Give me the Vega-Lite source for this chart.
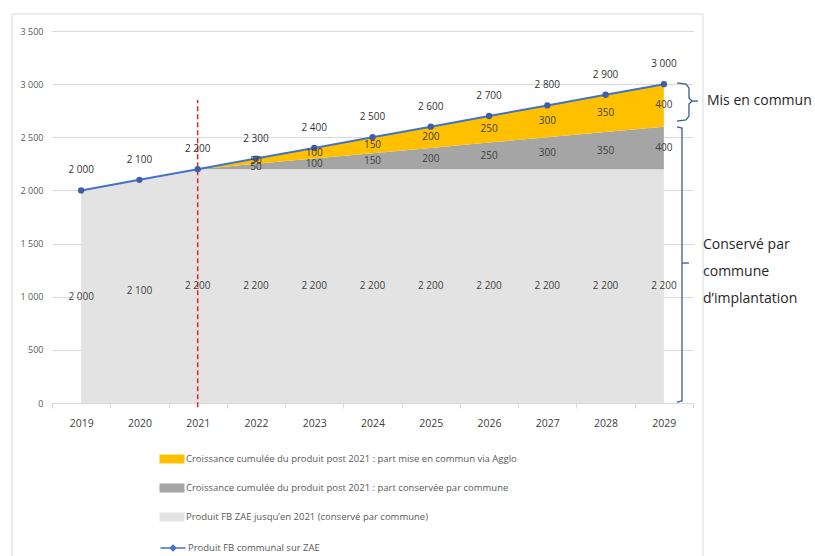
{
  "$schema": "https://vega.github.io/schema/vega-lite/v6.json",
  "autosize": {"type": "none"},
  "width": 641,
  "height": 372,
  "padding": {"left": 52, "top": 31, "right": 122, "bottom": 153},
  "background": "white",
  "config": {
    "view": {"stroke": null},
    "font": "Open Sans",
    "locale": {"number": {"decimal": ",", "thousands": " ", "grouping": [3], "currency": ["", " €"]}}
  },
  "resolve": {"axis": {"x": "independent", "y": "independent"}},
  "datasets": {
    "areas": [
      {"year": 2019, "series": "Produit FB ZAE jusqu’en 2021 (conservé par commune)", "value": 2000},
      {"year": 2020, "series": "Produit FB ZAE jusqu’en 2021 (conservé par commune)", "value": 2100},
      {"year": 2021, "series": "Produit FB ZAE jusqu’en 2021 (conservé par commune)", "value": 2200},
      {"year": 2022, "series": "Produit FB ZAE jusqu’en 2021 (conservé par commune)", "value": 2200},
      {"year": 2023, "series": "Produit FB ZAE jusqu’en 2021 (conservé par commune)", "value": 2200},
      {"year": 2024, "series": "Produit FB ZAE jusqu’en 2021 (conservé par commune)", "value": 2200},
      {"year": 2025, "series": "Produit FB ZAE jusqu’en 2021 (conservé par commune)", "value": 2200},
      {"year": 2026, "series": "Produit FB ZAE jusqu’en 2021 (conservé par commune)", "value": 2200},
      {"year": 2027, "series": "Produit FB ZAE jusqu’en 2021 (conservé par commune)", "value": 2200},
      {"year": 2028, "series": "Produit FB ZAE jusqu’en 2021 (conservé par commune)", "value": 2200},
      {"year": 2029, "series": "Produit FB ZAE jusqu’en 2021 (conservé par commune)", "value": 2200},
      {"year": 2019, "series": "Croissance cumulée du produit post 2021 : part conservée par commune", "value": 0},
      {"year": 2020, "series": "Croissance cumulée du produit post 2021 : part conservée par commune", "value": 0},
      {"year": 2021, "series": "Croissance cumulée du produit post 2021 : part conservée par commune", "value": 0},
      {"year": 2022, "series": "Croissance cumulée du produit post 2021 : part conservée par commune", "value": 50},
      {"year": 2023, "series": "Croissance cumulée du produit post 2021 : part conservée par commune", "value": 100},
      {"year": 2024, "series": "Croissance cumulée du produit post 2021 : part conservée par commune", "value": 150},
      {"year": 2025, "series": "Croissance cumulée du produit post 2021 : part conservée par commune", "value": 200},
      {"year": 2026, "series": "Croissance cumulée du produit post 2021 : part conservée par commune", "value": 250},
      {"year": 2027, "series": "Croissance cumulée du produit post 2021 : part conservée par commune", "value": 300},
      {"year": 2028, "series": "Croissance cumulée du produit post 2021 : part conservée par commune", "value": 350},
      {"year": 2029, "series": "Croissance cumulée du produit post 2021 : part conservée par commune", "value": 400},
      {"year": 2019, "series": "Croissance cumulée du produit post 2021 : part mise en commun via Agglo", "value": 0},
      {"year": 2020, "series": "Croissance cumulée du produit post 2021 : part mise en commun via Agglo", "value": 0},
      {"year": 2021, "series": "Croissance cumulée du produit post 2021 : part mise en commun via Agglo", "value": 0},
      {"year": 2022, "series": "Croissance cumulée du produit post 2021 : part mise en commun via Agglo", "value": 50},
      {"year": 2023, "series": "Croissance cumulée du produit post 2021 : part mise en commun via Agglo", "value": 100},
      {"year": 2024, "series": "Croissance cumulée du produit post 2021 : part mise en commun via Agglo", "value": 150},
      {"year": 2025, "series": "Croissance cumulée du produit post 2021 : part mise en commun via Agglo", "value": 200},
      {"year": 2026, "series": "Croissance cumulée du produit post 2021 : part mise en commun via Agglo", "value": 250},
      {"year": 2027, "series": "Croissance cumulée du produit post 2021 : part mise en commun via Agglo", "value": 300},
      {"year": 2028, "series": "Croissance cumulée du produit post 2021 : part mise en commun via Agglo", "value": 350},
      {"year": 2029, "series": "Croissance cumulée du produit post 2021 : part mise en commun via Agglo", "value": 400}
    ],
    "totals": [
      {"year": 2019, "total": 2000},
      {"year": 2020, "total": 2100},
      {"year": 2021, "total": 2200},
      {"year": 2022, "total": 2300},
      {"year": 2023, "total": 2400},
      {"year": 2024, "total": 2500},
      {"year": 2025, "total": 2600},
      {"year": 2026, "total": 2700},
      {"year": 2027, "total": 2800},
      {"year": 2028, "total": 2900},
      {"year": 2029, "total": 3000}
    ],
    "marker": [{"year": 2021, "lo": -40, "hi": 2850}],
    "frame": [{"fx1": 2017.814, "fx2": 2029.672, "fy1": 3660, "fy2": -1500}],
    "paths": [
      {"path": "b1", "seq": 1, "bx": 2029.225, "by": 3011},
      {"path": "b1", "seq": 2, "bx": 2029.380, "by": 3001},
      {"path": "b1", "seq": 3, "bx": 2029.431, "by": 2964},
      {"path": "b1", "seq": 4, "bx": 2029.431, "by": 2870},
      {"path": "b1", "seq": 5, "bx": 2029.483, "by": 2841},
      {"path": "b1", "seq": 6, "bx": 2029.431, "by": 2813},
      {"path": "b1", "seq": 7, "bx": 2029.431, "by": 2700},
      {"path": "b1", "seq": 8, "bx": 2029.380, "by": 2663},
      {"path": "b1", "seq": 9, "bx": 2029.225, "by": 2653},
      {"path": "t1", "seq": 1, "bx": 2029.483, "by": 2841},
      {"path": "t1", "seq": 2, "bx": 2029.586, "by": 2841},
      {"path": "b2", "seq": 1, "bx": 2029.225, "by": 2597},
      {"path": "b2", "seq": 2, "bx": 2029.311, "by": 2587},
      {"path": "b2", "seq": 3, "bx": 2029.311, "by": 19},
      {"path": "b2", "seq": 4, "bx": 2029.225, "by": 9},
      {"path": "t2", "seq": 1, "bx": 2029.311, "by": 1317},
      {"path": "t2", "seq": 2, "bx": 2029.431, "by": 1317}
    ],
    "notes": [
      {"nx": 2029.740, "ny": 2841, "label": "Mis en commun"},
      {"nx": 2029.672, "ny": 1487, "label": "Conservé par"},
      {"nx": 2029.672, "ny": 1233, "label": "commune"},
      {"nx": 2029.672, "ny": 979, "label": "d’implantation"}
    ]
  },
  "layer": [
    {
      "data": {"name": "areas"},
      "transform": [
        {"calculate": "indexof(['Produit FB ZAE jusqu’en 2021 (conservé par commune)', 'Croissance cumulée du produit post 2021 : part conservée par commune', 'Croissance cumulée du produit post 2021 : part mise en commun via Agglo'], datum.series)", "as": "rank"}
      ],
      "mark": {"type": "area", "opacity": 1},
      "encoding": {
        "x": {
          "field": "year", "type": "quantitative", "title": null,
          "scale": {"domain": [2018.5, 2029.5], "nice": false, "zero": false},
          "axis": {
            "values": [2018.5, 2019, 2019.5, 2020, 2020.5, 2021, 2021.5, 2022, 2022.5, 2023, 2023.5, 2024, 2024.5, 2025, 2025.5, 2026, 2026.5, 2027, 2027.5, 2028, 2028.5, 2029, 2029.5],
            "labelExpr": "(datum.value % 1) == 0 ? ('' + datum.value) : ''",
            "grid": false,
            "domainColor": "#d9d9d9",
            "tickColor": "#d9d9d9",
            "tickSize": 5,
            "tickOpacity": {"condition": {"test": "(datum.value % 1) != 0", "value": 1}, "value": 0},
            "labelFontSize": 10.5,
            "labelColor": "#404040",
            "labelPadding": 10,
            "labelFlush": false,
            "labelOverlap": false,
            "labelBound": false,
            "title": null
          }
        },
        "y": {
          "field": "value", "type": "quantitative", "stack": "zero", "title": null,
          "scale": {"domain": [0, 3500], "nice": false},
          "axis": {
            "values": [0, 500, 1000, 1500, 2000, 2500, 3000, 3500],
            "labelExpr": "format(datum.value, ',')",
            "grid": true,
            "gridColor": "#d9d9d9",
            "domain": false,
            "ticks": false,
            "labelPadding": 9,
            "labelFontSize": 9,
            "labelColor": "#595959",
            "title": null
          }
        },
        "color": {
          "field": "series", "type": "nominal",
          "scale": {
            "domain": [
              "Croissance cumulée du produit post 2021 : part mise en commun via Agglo",
              "Croissance cumulée du produit post 2021 : part conservée par commune",
              "Produit FB ZAE jusqu’en 2021 (conservé par commune)"
            ],
            "range": ["#FFC000", "#A5A5A5", "#E3E3E3"]
          },
          "legend": {
            "title": null,
            "orient": "none",
            "legendX": 115,
            "legendY": 423,
            "direction": "vertical",
            "padding": 0,
            "labelFontSize": 9.5,
            "labelColor": "#595959",
            "labelLimit": 600,
            "rowPadding": 19,
            "symbolSize": 100,
            "labelOffset": 9,
            "symbolType": "M-2.5,-0.9H2.5V0.9H-2.5Z",
            "symbolStrokeWidth": 0,
            "symbolOpacity": 1
          }
        },
        "order": {"field": "rank", "type": "quantitative"}
      }
    },
    {
      "data": {"name": "frame"},
      "mark": {"type": "rect", "fillOpacity": 0, "stroke": "#d9d9d9", "strokeWidth": 1},
      "encoding": {
        "x": {"field": "fx1", "type": "quantitative", "scale": {"domain": [2018.5, 2029.5], "nice": false, "zero": false}, "axis": null},
        "x2": {"field": "fx2"},
        "y": {"field": "fy1", "type": "quantitative", "scale": {"domain": [0, 3500], "nice": false}, "axis": null},
        "y2": {"field": "fy2"}
      }
    },
    {
      "data": {"name": "marker"},
      "mark": {"type": "rule", "color": "#E3242B", "strokeDash": [5, 3], "strokeWidth": 1.5},
      "encoding": {
        "x": {"field": "year", "type": "quantitative", "scale": {"domain": [2018.5, 2029.5], "nice": false, "zero": false}, "axis": null},
        "y": {"field": "lo", "type": "quantitative", "scale": {"domain": [0, 3500], "nice": false}, "axis": null},
        "y2": {"field": "hi"}
      }
    },
    {
      "data": {"name": "totals"},
      "mark": {"type": "line", "strokeWidth": 2},
      "encoding": {
        "x": {"field": "year", "type": "quantitative", "scale": {"domain": [2018.5, 2029.5], "nice": false, "zero": false}, "axis": null},
        "y": {"field": "total", "type": "quantitative", "scale": {"domain": [0, 3500], "nice": false}, "axis": null},
        "stroke": {
          "datum": "Produit FB communal sur ZAE",
          "scale": {"range": ["#4472C4"]},
          "legend": {
            "title": null,
            "orient": "none",
            "legendX": 115,
            "legendY": 511,
            "padding": 0,
            "labelFontSize": 9.5,
            "labelColor": "#595959",
            "labelLimit": 600,
            "symbolSize": 100,
            "labelOffset": 9,
            "symbolType": "M-2.5,0H2.5M0,-0.55L0.55,0L0,0.55L-0.55,0Z",
            "symbolStrokeWidth": 1.5,
            "symbolFillColor": "#4472C4",
            "symbolStrokeColor": "#4472C4",
            "symbolOpacity": 1
          }
        }
      }
    },
    {
      "data": {"name": "totals"},
      "mark": {"type": "point", "filled": true, "size": 40, "color": "#3F5DA8", "opacity": 1},
      "encoding": {
        "x": {"field": "year", "type": "quantitative", "scale": {"domain": [2018.5, 2029.5], "nice": false, "zero": false}, "axis": null},
        "y": {"field": "total", "type": "quantitative", "scale": {"domain": [0, 3500], "nice": false}, "axis": null}
      }
    },
    {
      "data": {"name": "totals"},
      "mark": {"type": "text", "dy": -20, "fontSize": 10, "color": "#333333", "baseline": "middle"},
      "encoding": {
        "x": {"field": "year", "type": "quantitative", "scale": {"domain": [2018.5, 2029.5], "nice": false, "zero": false}, "axis": null},
        "y": {"field": "total", "type": "quantitative", "scale": {"domain": [0, 3500], "nice": false}, "axis": null},
        "text": {"field": "total", "type": "quantitative", "format": ","}
      }
    },
    {
      "data": {"name": "areas"},
      "transform": [
        {"calculate": "indexof(['Produit FB ZAE jusqu’en 2021 (conservé par commune)', 'Croissance cumulée du produit post 2021 : part conservée par commune', 'Croissance cumulée du produit post 2021 : part mise en commun via Agglo'], datum.series)", "as": "rank"},
        {"stack": "value", "groupby": ["year"], "sort": [{"field": "rank", "order": "ascending"}], "as": ["v0", "v1"]},
        {"filter": "datum.value > 0"},
        {"calculate": "(datum.v0 + datum.v1) / 2", "as": "mid"}
      ],
      "mark": {"type": "text", "fontSize": 10, "color": "#404040", "baseline": "middle"},
      "encoding": {
        "x": {"field": "year", "type": "quantitative", "scale": {"domain": [2018.5, 2029.5], "nice": false, "zero": false}, "axis": null},
        "y": {"field": "mid", "type": "quantitative", "scale": {"domain": [0, 3500], "nice": false}, "axis": null},
        "text": {"field": "value", "type": "quantitative", "format": ","}
      }
    },
    {
      "data": {"name": "paths"},
      "mark": {"type": "line", "color": "#3A5A96", "strokeWidth": 1.3},
      "encoding": {
        "x": {"field": "bx", "type": "quantitative", "scale": {"domain": [2018.5, 2029.5], "nice": false, "zero": false}, "axis": null},
        "y": {"field": "by", "type": "quantitative", "scale": {"domain": [0, 3500], "nice": false}, "axis": null},
        "detail": {"field": "path", "type": "nominal"},
        "order": {"field": "seq", "type": "quantitative"}
      }
    },
    {
      "data": {"name": "notes"},
      "mark": {"type": "text", "align": "left", "baseline": "middle", "fontSize": 14, "color": "#262626"},
      "encoding": {
        "x": {"field": "nx", "type": "quantitative", "scale": {"domain": [2018.5, 2029.5], "nice": false, "zero": false}, "axis": null},
        "y": {"field": "ny", "type": "quantitative", "scale": {"domain": [0, 3500], "nice": false}, "axis": null},
        "text": {"field": "label", "type": "nominal"}
      }
    }
  ]
}
